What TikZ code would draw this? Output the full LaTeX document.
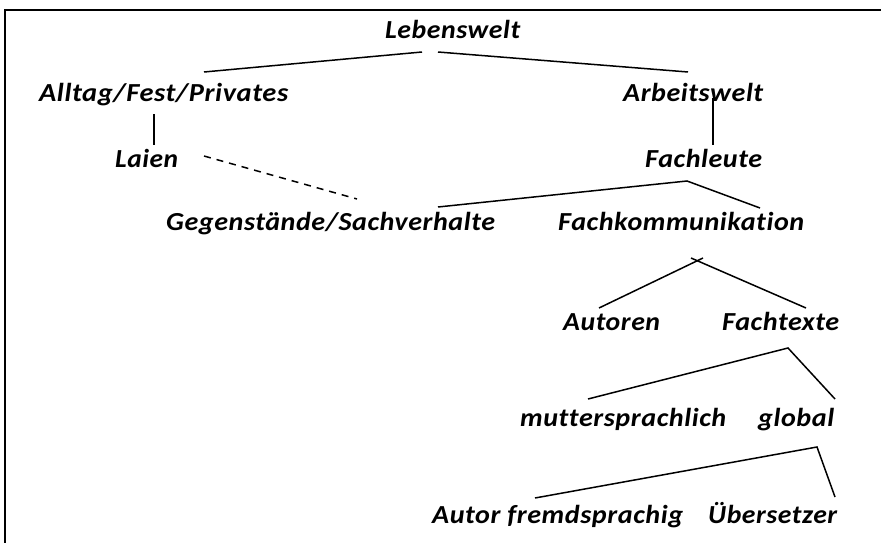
\documentclass[tikz,border=0pt]{standalone}
\usepackage{fontspec}
\setmainfont{Carlito}
\newfontfamily\lblfont{Carlito}[LetterSpace=2,Ligatures={CommonOff}]
\newlength\lblw
\newcommand\fitw[2]{\settowidth\lblw{#2}\pgfmathsetmacro\sfac{#1/\lblw}\scalebox{\sfac}[1]{#2}}
\tikzset{
  lbl/.style={inner sep=0pt, anchor=base west, font=\lblfont\bfseries\itshape\fontsize{26}{30}\selectfont},
  conn/.style={line width=1.5pt},
  dconn/.style={line width=1.5pt, dash pattern=on 7pt off 6pt},
  frame/.style={line width=2pt}
}
\begin{document}
\begin{tikzpicture}[x=1pt,y=-1pt]
\useasboundingbox (0,0) rectangle (881,543);
% frame
\coordinate (fr1) at (881,10);
\coordinate (fr2) at (5,10);
\coordinate (fr3) at (5,543);
\draw[frame] (fr1) -- (fr2) -- (fr3);
% labels
\node[lbl] (leb) at (385,39) {\fitw{135}{Lebenswelt}};
\node[lbl] (all) at (39,101) {\fitw{249}{Alltag/Fest/Privates}};
\node[lbl] (arb) at (623,101) {\fitw{140}{Arbeitswelt}};
\node[lbl] (lai) at (115,167) {\fitw{63}{Laien}};
\node[lbl] (fle) at (645,167) {\fitw{117}{Fachleute}};
\node[lbl] (geg) at (166,230) {\fitw{329}{Gegenstände/Sachverhalte}};
\node[lbl] (fko) at (558,230) {\fitw{246}{Fachkommunikation}};
\node[lbl] (aut) at (563,330) {\fitw{97}{Autoren}};
\node[lbl] (fte) at (722,330) {\fitw{117}{Fachtexte}};
\node[lbl] (mut) at (520,426) {\fitw{206}{muttersprachlich}};
\node[lbl] (glo) at (758,426) {\fitw{76}{global}};
\node[lbl] (afr) at (432,523) {\fitw{251}{Autor fremdsprachig}};
\node[lbl] (ueb) at (708,523) {\fitw{129}{Übersetzer}};
% connector points
\coordinate (leb-l) at (422,52);
\coordinate (leb-r) at (438,52);
\coordinate (all-t) at (204,72);
\coordinate (arb-t) at (688,72);
\coordinate (all-b) at (154,114);
\coordinate (lai-t) at (154,145);
\coordinate (arb-b) at (713,98);
\coordinate (fle-t) at (713,145);
\coordinate (lai-r) at (204,156);
\coordinate (geg-t) at (357,199);
\coordinate (fle-b) at (687,181);
\coordinate (geg-r) at (438,207);
\coordinate (fko-t) at (760,208);
\coordinate (fko-bl) at (703,258);
\coordinate (fko-br) at (691,258);
\coordinate (aut-t) at (599,308);
\coordinate (fte-t) at (806,308);
\coordinate (fte-b) at (788,348);
\coordinate (mut-t) at (588,399);
\coordinate (glo-t) at (835,399);
\coordinate (glo-b) at (817,447);
\coordinate (afr-t) at (535,498);
\coordinate (ueb-t) at (835,497);
% connectors
\draw[conn] (all-t) -- (leb-l);
\draw[conn] (leb-r) -- (arb-t);
\draw[conn] (all-b) -- (lai-t);
\draw[conn] (arb-b) -- (fle-t);
\draw[dconn] (lai-r) -- (geg-t);
\draw[conn] (geg-r) -- (fle-b) -- (fko-t);
\draw[conn] (aut-t) -- (fko-bl);
\draw[conn] (fte-t) -- (fko-br);
\draw[conn] (mut-t) -- (fte-b) -- (glo-t);
\draw[conn] (afr-t) -- (glo-b) -- (ueb-t);
\end{tikzpicture}
\end{document}
